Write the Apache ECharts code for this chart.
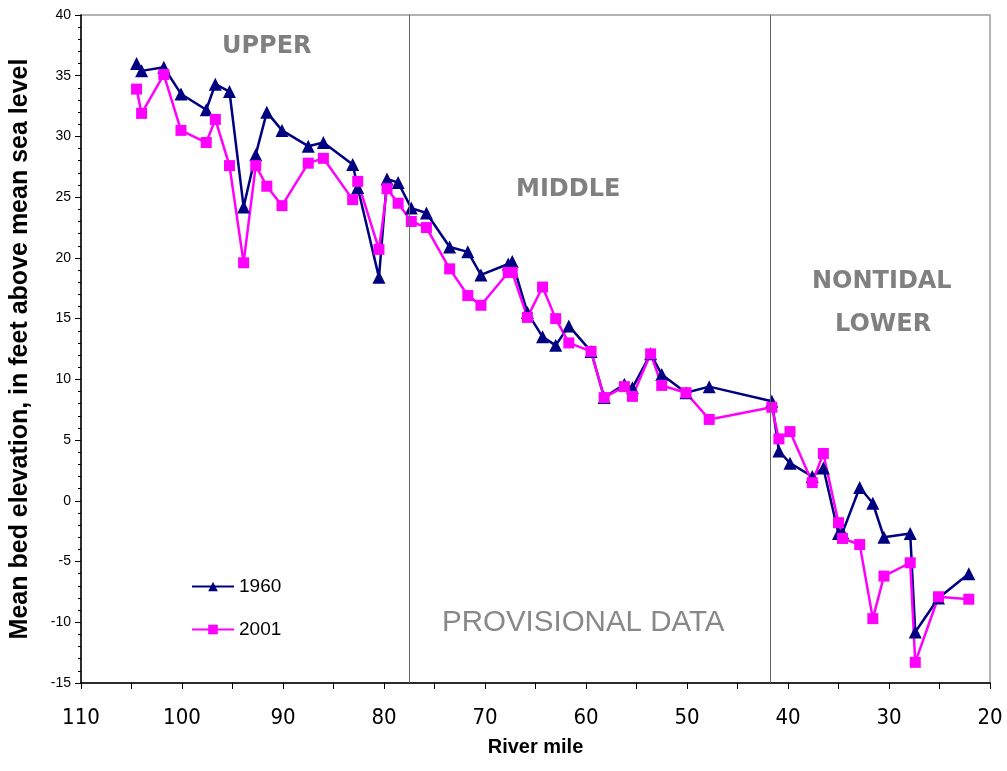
<!DOCTYPE html>
<html>
<head>
<meta charset="utf-8">
<script src="https://cdn.jsdelivr.net/npm/echarts@6/dist/echarts.min.js"></script>
<style>
  html, body { margin: 0; padding: 0; background: #fff; }
  #chart { width: 1007px; height: 771px; }
</style>
</head>
<body>
<div id="chart"></div>
<script>
// river miles for each survey point
const miles = [104.5, 104.0, 101.8, 100.1, 97.6, 96.7, 95.3, 93.9, 92.7, 91.6,
  90.1, 87.5, 86.0, 83.1, 82.6, 80.5, 79.7, 78.6, 77.3, 75.8,
  73.5, 71.7, 70.4, 67.7, 67.3, 65.8, 64.3, 63.0, 61.7, 59.5,
  58.2, 56.2, 55.4, 53.6, 52.5, 50.1, 47.8, 41.6, 40.9, 39.8,
  37.6, 36.5, 35.0, 34.6, 32.9, 31.6, 30.5, 27.9, 27.4, 25.1, 22.1];

const elev1960 = [36.0, 35.4, 35.7, 33.5, 32.2, 34.3, 33.7, 24.2, 28.5, 32.0,
  30.5, 29.2, 29.5, 27.7, 25.8, 18.4, 26.5, 26.2, 24.1, 23.7,
  20.9, 20.5, 18.6, 19.5, 19.7, 15.5, 13.5, 12.8, 14.4, 12.3,
  8.5, 9.6, 9.3, 12.1, 10.4, 8.9, 9.4, 8.2, 4.1, 3.1,
  2.0, 2.7, -2.7, -2.6, 1.1, -0.2, -3.0, -2.7, -10.8, -8.0, -6.0];

const elev2001 = [33.9, 31.9, 35.1, 30.5, 29.5, 31.4, 27.6, 19.6, 27.6, 25.9,
  24.3, 27.8, 28.2, 24.8, 26.3, 20.7, 25.7, 24.5, 23.0, 22.5,
  19.1, 16.9, 16.1, 18.8, 18.8, 15.1, 17.6, 15.0, 13.0, 12.3,
  8.5, 9.4, 8.6, 12.1, 9.5, 8.9, 6.7, 7.7, 5.1, 5.7,
  1.5, 3.9, -1.8, -3.1, -3.6, -9.7, -6.2, -5.1, -13.3, -7.9, -8.1];

// reach boundaries (river mile)
const dividers = [77.5, 41.8];

const pairs = (ys) => miles.map((m, i) => [m, ys[i]]);

const chart = echarts.init(document.getElementById('chart'));

const ARIAL = 'Arial, Liberation Sans, sans-serif';
const reachText = (text, left, top) => ({
  type: 'text', left, top,
  style: { text, fontSize: 24, fontWeight: 'bold', fill: '#808080', fontFamily: 'DejaVu Sans, sans-serif' },
});

chart.setOption({
  animation: false,
  grid: {
    left: 80,
    right: 17,
    top: 15,
    bottom: 88,
    show: true,
    borderColor: '#999',
    borderWidth: 1.5,
  },
  legend: {
    orient: 'vertical',
    left: 186,
    top: 572,
    itemWidth: 42,
    itemHeight: 12,
    itemGap: 24,
    textStyle: { fontSize: 19, color: '#000', fontFamily: ARIAL },
    data: ['1960', '2001'],
  },
  xAxis: {
    type: 'value',
    inverse: true,
    min: 20,
    max: 110,
    interval: 10,
    name: 'River mile',
    nameLocation: 'middle',
    nameGap: 54,
    nameTextStyle: { fontSize: 20, fontWeight: 'bold', color: '#000', fontFamily: ARIAL },
    axisLine: { show: true, onZero: false, lineStyle: { color: '#000', width: 1.5 } },
    axisTick: { show: true, length: 6, lineStyle: { color: '#000' } },
    minorTick: { show: true, splitNumber: 2, length: 6, lineStyle: { color: '#000' } },
    splitLine: { show: false },
    axisLabel: { fontSize: 22, color: '#000', margin: 24, fontFamily: 'Liberation Sans Narrow, DejaVu Sans Condensed, Arial, sans-serif' },
  },
  yAxis: {
    type: 'value',
    min: -15,
    max: 40,
    interval: 5,
    name: 'Mean bed elevation, in feet above mean sea level',
    nameLocation: 'middle',
    nameGap: 48,
    nameTextStyle: { fontSize: 25, fontWeight: 'bold', color: '#000', fontFamily: ARIAL },
    axisLine: { show: true, onZero: false, lineStyle: { color: '#000', width: 1.5 } },
    axisTick: { show: true, length: 6, lineStyle: { color: '#000' } },
    minorTick: { show: true, splitNumber: 5, length: 3, lineStyle: { color: '#000' } },
    splitLine: { show: false },
    axisLabel: { fontSize: 14, color: '#000', margin: 10, fontFamily: ARIAL },
  },
  graphic: [
    reachText('UPPER', 222, 35),
    reachText('MIDDLE', 516, 178),
    reachText('NONTIDAL', 812, 270),
    reachText('LOWER', 835, 313),
    { type: 'text', left: 442, top: 608, style: { text: 'PROVISIONAL DATA', fontSize: 29.5, fill: '#888', fontFamily: ARIAL } },
  ],
  series: [
    {
      name: '1960',
      type: 'line',
      data: pairs(elev1960),
      symbol: 'triangle',
      symbolSize: 13,
      color: '#000080',
      lineStyle: { width: 2.5, color: '#000080' },
      itemStyle: { color: '#000080' },
      markLine: {
        silent: true,
        symbol: 'none',
        label: { show: false },
        lineStyle: { color: '#666', width: 1, type: 'solid' },
        data: dividers.map((d) => ({ xAxis: d })),
      },
    },
    {
      name: '2001',
      type: 'line',
      data: pairs(elev2001),
      symbol: 'rect',
      symbolSize: 11,
      color: '#ff00ff',
      lineStyle: { width: 2.5, color: '#ff00ff' },
      itemStyle: { color: '#ff00ff' },
    },
  ],
});
</script>
</body>
</html>
